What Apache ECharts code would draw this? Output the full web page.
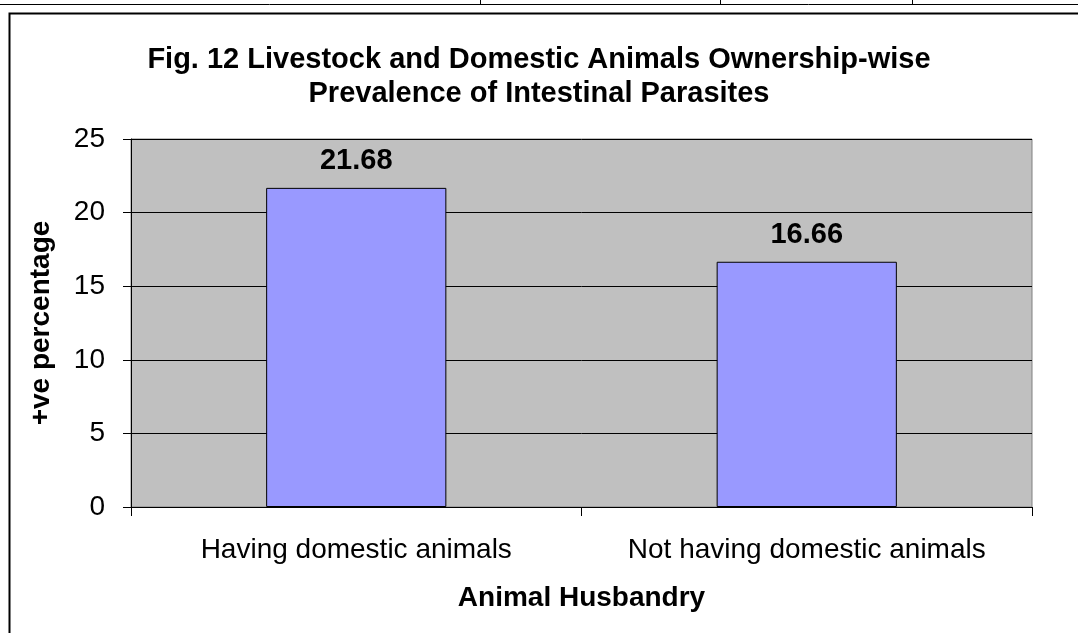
<!DOCTYPE html>
<html>
<head>
<meta charset="utf-8">
<script src="https://cdn.jsdelivr.net/npm/echarts@6/dist/echarts.min.js"></script>
<style>html,body{margin:0;padding:0;background:#fff}#c{width:1078px;height:633px}</style>
</head>
<body>
<div id="c"></div>
<script>
var categories = ['Having domestic animals', 'Not having domestic animals'];
var values = [21.68, 16.66];
var titleLines = ['Fig. 12 Livestock and Domestic Animals Ownership-wise', 'Prevalence of Intestinal Parasites'];
var xName = 'Animal Husbandry';
var yName = '+ve percentage';

var F = '"Liberation Sans", Arial, sans-serif';
var chart = echarts.init(document.getElementById('c'), null, {renderer: 'canvas'});
chart.setOption({
  animation: false,
  title: {
    text: titleLines.join('\n'),
    left: 'center', top: 38,
    textStyle: {fontFamily: F, fontSize: 29, fontWeight: 'bold', color: '#000', lineHeight: 34}
  },
  grid: {left: 131, right: 46, top: 139, bottom: 126, show: true, backgroundColor: '#C0C0C0', borderColor: '#808080', borderWidth: 1},
  xAxis: {
    type: 'category', data: categories,
    name: xName, nameLocation: 'middle', nameGap: 77,
    nameTextStyle: {fontFamily: F, fontSize: 28, fontWeight: 'bold', color: '#000'},
    axisLine: {lineStyle: {color: '#000', width: 1}},
    axisTick: {show: true, length: 9, lineStyle: {color: '#000'}},
    axisLabel: {fontFamily: F, fontSize: 28, color: '#000', margin: 29, interval: 0}
  },
  yAxis: {
    type: 'value', min: 0, max: 25, interval: 5,
    name: yName, nameLocation: 'middle', nameGap: 76, nameRotate: 90,
    nameTextStyle: {fontFamily: F, fontSize: 28, fontWeight: 'bold', color: '#000'},
    axisLine: {show: true, lineStyle: {color: '#000', width: 1}},
    axisTick: {show: true, inside: false, length: 8, lineStyle: {color: '#000'}},
    axisLabel: {fontFamily: F, fontSize: 28, color: '#000', margin: 26},
    splitLine: {lineStyle: {color: '#000', width: 1}}
  },
  series: [{
    type: 'bar', data: values, barWidth: '40%',
    itemStyle: {color: '#9999FF', borderColor: '#000', borderWidth: 1},
    label: {show: true, position: 'top', distance: 12, fontFamily: F, fontSize: 29, fontWeight: 'bold', color: '#000',
      formatter: function(p){ return p.value.toFixed(2); }}
  }],
  graphic: [
    {type: 'line', shape: {x1: 0, y1: 4.5, x2: 1078, y2: 4.5}, style: {stroke: '#000', lineWidth: 1}},
    {type: 'line', shape: {x1: 480.5, y1: 0, x2: 480.5, y2: 5}, style: {stroke: '#000', lineWidth: 1}},
    {type: 'line', shape: {x1: 720.5, y1: 0, x2: 720.5, y2: 5}, style: {stroke: '#000', lineWidth: 1}},
    {type: 'line', shape: {x1: 912.5, y1: 0, x2: 912.5, y2: 5}, style: {stroke: '#000', lineWidth: 1}},
    {type: 'rect', shape: {x: 9.5, y: 13.5, width: 1200, height: 700}, style: {fill: 'none', stroke: '#000', lineWidth: 2}, z: 100}
  ]
});
</script>
</body>
</html>
